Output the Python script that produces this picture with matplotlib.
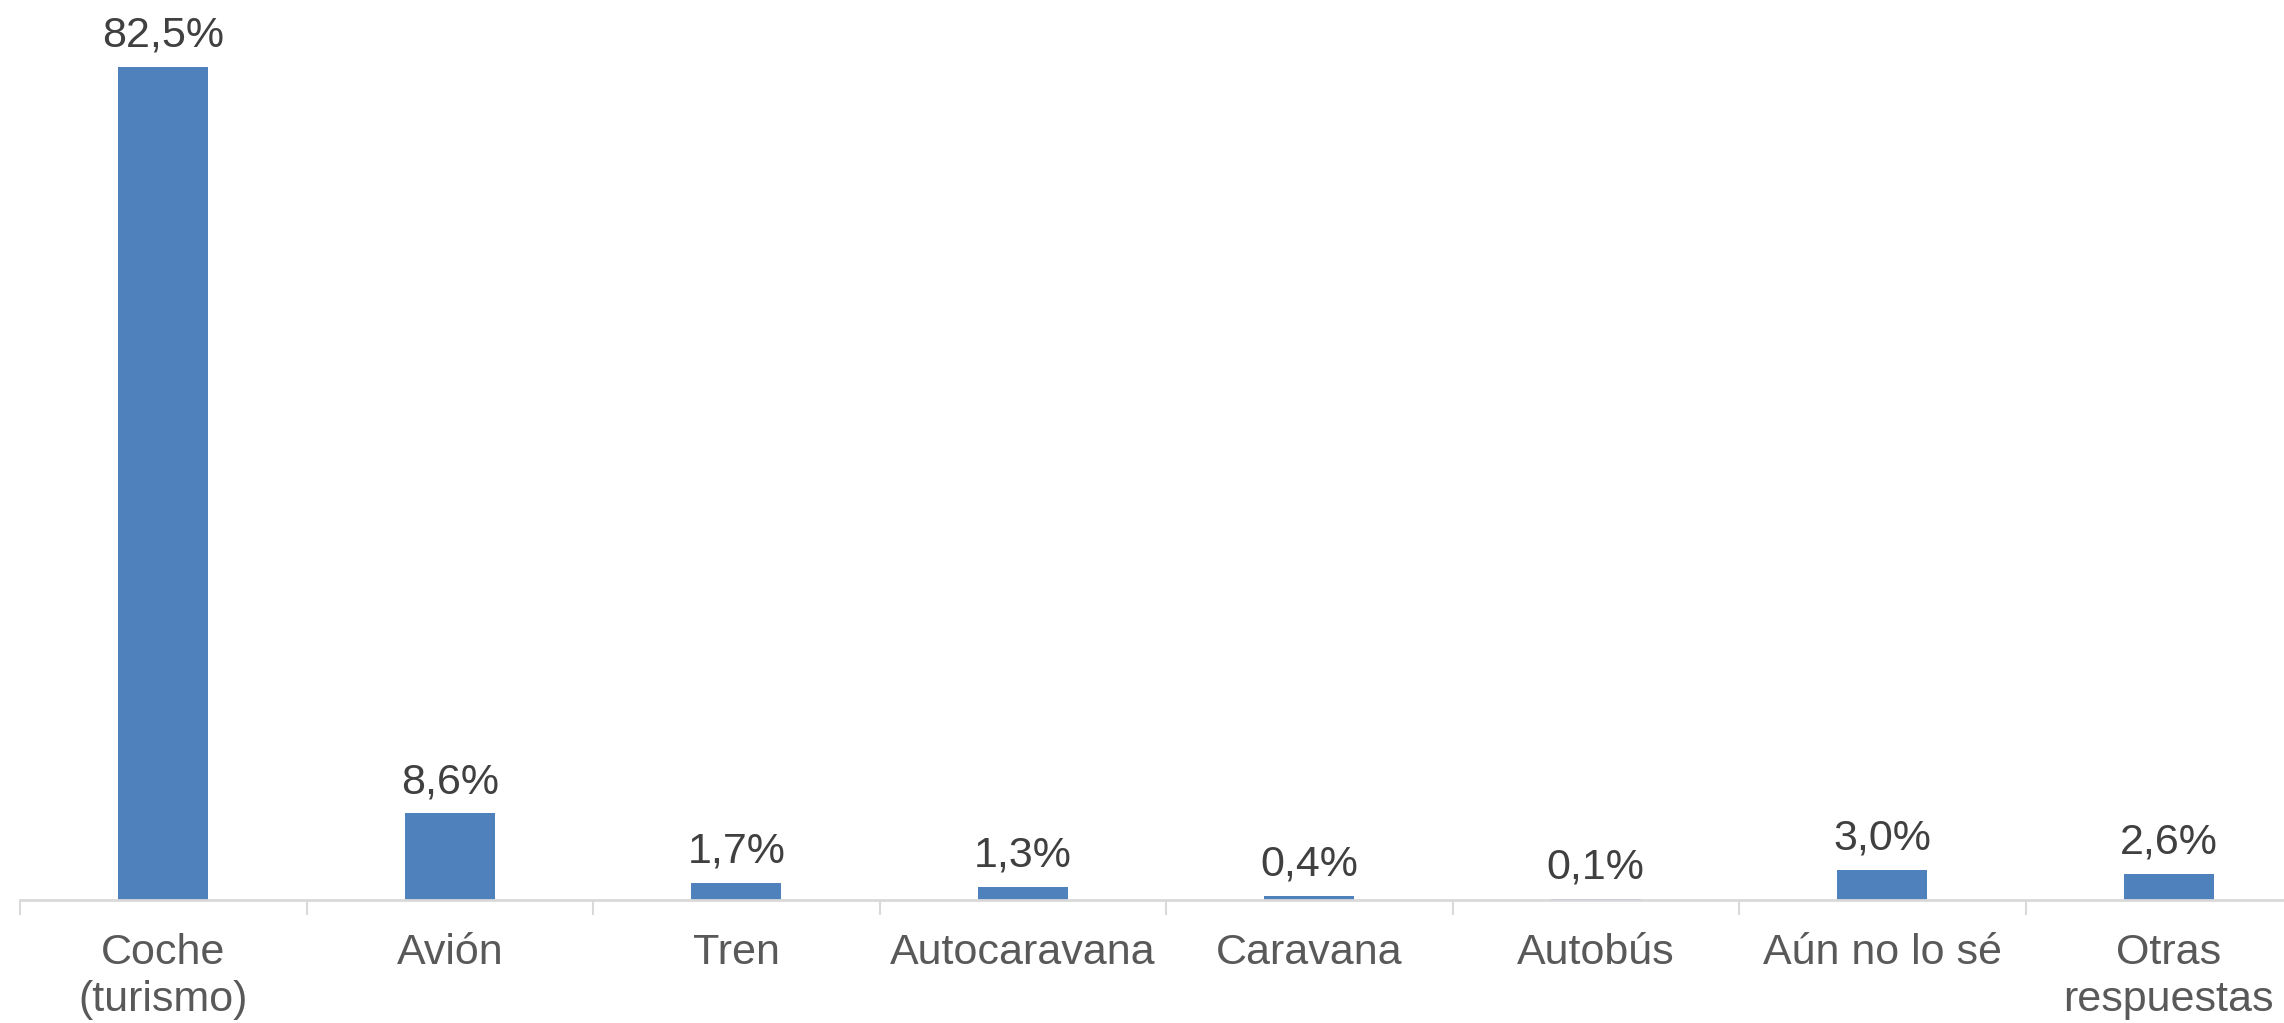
import numpy as np
import matplotlib
matplotlib.use("Agg")
from matplotlib import pyplot as plt

# data
categories = ["Coche\n(turismo)", "Avión", "Tren", "Autocaravana", "Caravana",
              "Autobús", "Aún no lo sé", "Otras\nrespuestas"]
values = [82.5, 8.6, 1.7, 1.3, 0.4, 0.1, 3.0, 2.6]
labels = ["82,5%", "8,6%", "1,7%", "1,3%", "0,4%", "0,1%", "3,0%", "2,6%"]

plt.rcParams['font.family'] = ['Liberation Sans', 'DejaVu Sans']

fig = plt.figure(figsize=(22.84, 10.23), dpi=100)
# the plot area runs a little past the right edge, like the original
ax = fig.add_axes([20 / 2284, 123 / 1023, 8 * 286.5 / 2284, 900 / 1023])

x = np.arange(len(categories))
bars = ax.bar(x, values, width=0.315, color="#4F81BD", zorder=2)

for b, lab in zip(bars, labels):
    ax.annotate(lab, (b.get_x() + b.get_width() / 2, b.get_height()),
                xytext=(0, 8), textcoords="offset points",
                ha="center", va="bottom", fontsize=31, color="#404040")

ax.set_xlim(-0.5, len(categories) - 0.5)
ax.set_ylim(0, 89.1)

for s in ["top", "right", "left"]:
    ax.spines[s].set_visible(False)
ax.spines["bottom"].set_color("#D9D9D9")
ax.spines["bottom"].set_linewidth(2)

ax.set_yticks([])
ax.set_xticks(x)
ax.set_xticklabels(categories, fontsize=31, color="#595959", linespacing=1.2)
ax.tick_params(axis="x", which="major", length=0, pad=24)
ax.set_xticks(np.arange(len(categories) + 1) - 0.5, minor=True)
ax.tick_params(axis="x", which="minor", length=11, width=1.5, color="#D9D9D9")

fig.savefig("out.png", dpi=100)
